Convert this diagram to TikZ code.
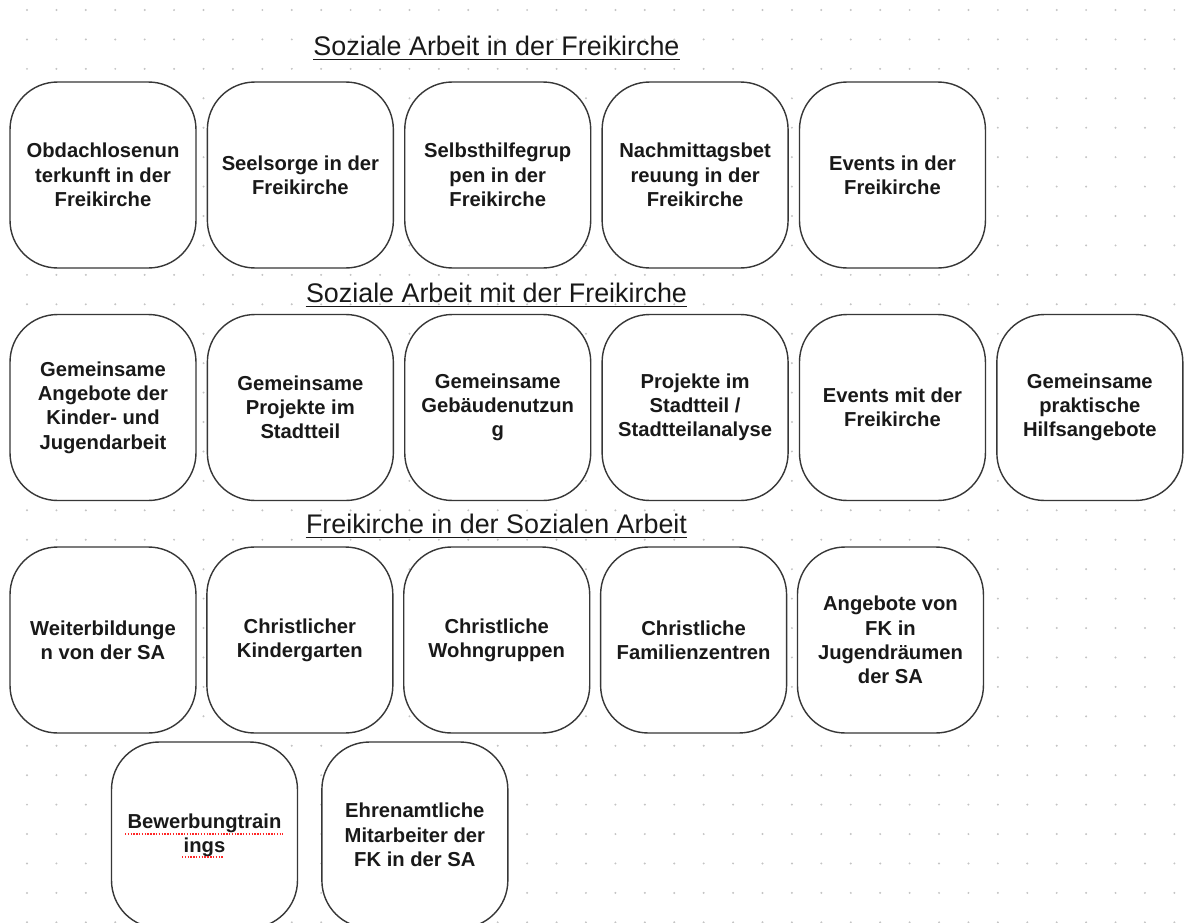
\documentclass[tikz,border=0pt]{standalone}
\usepackage{fontspec}
\setmainfont{Liberation Sans}
\usetikzlibrary{positioning}
\definecolor{dotgrey}{RGB}{196,196,196}
\definecolor{linegrey}{RGB}{55,55,55}
\definecolor{inkblack}{RGB}{25,25,25}
\tikzset{node distance=0.2cm}
\tikzset{round box/.style={draw=linegrey,line width=0.8pt,fill=white,text=inkblack,
    rounded corners=0.95cm,minimum width=3.72cm,minimum height=3.72cm,
    align=center,inner sep=2pt,font=\fontsize{11.5}{13.8}\selectfont\bfseries}}
\tikzset{row title/.style={anchor=base,inner sep=0pt,text=inkblack,font=\fontsize{15.3}{18}\selectfont}}
\tikzset{spell line/.style={red!85,line width=0.9pt,dash pattern=on 0.8pt off 0.8pt}}

\begin{document}
\begin{tikzpicture}[x=0.02cm,y=-0.02cm]
                \useasboundingbox (0,0) rectangle (1198,923);
                \fill[white] (0,0) rectangle (1198,923);
                % dot grid
                \foreach \i in {0,...,39}
                    \foreach \j in {0,...,31}
                        \fill[dotgrey] (27+29.42*\i,10+29.43*\j) circle (0.022cm);
                % titles
                \node[row title] (t1) at (496.5,55)  {Soziale Arbeit in der Freikirche};
                \node[row title] (t2) at (496.5,302) {Soziale Arbeit mit der Freikirche};
                \node[row title] (t3) at (496.5,533) {Freikirche in der Sozialen Arbeit};
                \foreach \t in {t1,t2,t3}
                    \draw[inkblack,line width=0.6pt] ([yshift=-2.8pt]\t.base west) -- ([yshift=-2.8pt]\t.base east);
                % in der Freikirche
                \node[round box] (in0) at (103,175)  {Obdachlosenun\\terkunft in der\\Freikirche};
                \node[round box] (in1) [right=of in0] {Seelsorge in der\\Freikirche};
                \node[round box] (in2) [right=of in1] {Selbsthilfegrup\\pen in der\\Freikirche};
                \node[round box] (in3) [right=of in2] {Nachmittagsbet\\reuung in der\\Freikirche};
                \node[round box] (in4) [right=of in3] {Events in der\\Freikirche};
                % mit der Freikirche
                \node[round box] (mit0) at (103,407.5) {Gemeinsame\\Angebote der\\Kinder- und\\Jugendarbeit};
                \node[round box] (mit1) [right=of mit0] {Gemeinsame\\Projekte im\\Stadtteil};
                \node[round box] (mit2) [right=of mit1] {Gemeinsame\\Gebäudenutzun\\g};
                \node[round box] (mit3) [right=of mit2] {Projekte im\\Stadtteil /\\Stadtteilanalyse};
                \node[round box] (mit4) [right=of mit3] {Events mit der\\Freikirche};
                \node[round box] (mit5) [right=of mit4] {Gemeinsame\\praktische\\Hilfsangebote};
                % Freikirche in der SA
                \node[round box] (fk0) at (103,640)  {Weiterbildunge\\n von der SA};
                \node[round box] (fk1) [right=0.19cm of fk0] {Christlicher\\Kindergarten};
                \node[round box] (fk2) [right=0.19cm of fk1] {Christliche\\Wohngruppen};
                \node[round box] (fk3) [right=0.19cm of fk2] {Christliche\\Familienzentren};
                \node[round box] (fk4) [right=0.19cm of fk3] {Angebote von\\FK in\\Jugendräumen\\der SA};
                \node[round box] (fk5) at (204.5,835) {Bewerbungtrain\\ings};
                \node[round box] (fk6) [right=0.46cm of fk5] {Ehrenamtliche\\Mitarbeiter der\\FK in der SA};
                % spell check marks
                \draw[spell line] ([shift={(-79.5,-1)}]fk5.center) -- ([shift={(78.5,-1)}]fk5.center);
                \draw[spell line] ([shift={(-22.5,22)}]fk5.center) -- ([shift={(19.5,22)}]fk5.center);
\end{tikzpicture}
\end{document}
